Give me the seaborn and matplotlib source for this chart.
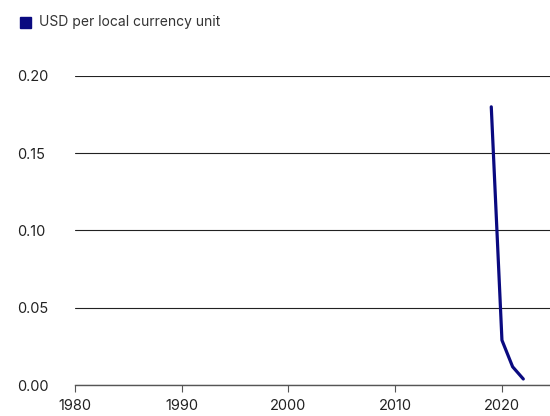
import pandas as pd
import matplotlib.pyplot as plt
import seaborn as sns

years = [2019, 2020, 2021, 2022]
usd_rate = [0.180, 0.029, 0.0118, 0.0039]
series_name = "USD per local currency unit"

df = pd.DataFrame({"year": years, "value": usd_rate})

sns.set_style("white")
plt.rcParams['font.family'] = ['Inter', 'DejaVu Sans']

fig = plt.figure(figsize=(5.5, 4.16), dpi=100)
ax = fig.add_axes([0.136, 0.0745, 0.864, 0.743])

sns.lineplot(data=df, x="year", y="value", color="#0a0a80", linewidth=2.3, ax=ax)

ax.set_xlim(1980, 2024.5)
ax.set_ylim(0, 0.2)
ax.set_xticks([1980, 1990, 2000, 2010, 2020])
ax.set_yticks([0, 0.05, 0.10, 0.15, 0.20])
ax.set_yticklabels(["0.00", "0.05", "0.10", "0.15", "0.20"])
ax.set_xlabel("")
ax.set_ylabel("")

ax.yaxis.grid(True, color="#222222", linewidth=0.8)
ax.set_axisbelow(True)
for s in ["top", "right", "left"]:
    ax.spines[s].set_visible(False)
ax.spines["bottom"].set_color("#555555")
ax.spines["bottom"].set_linewidth(1.0)
ax.tick_params(axis="x", bottom=True, length=5, width=0.8, color="#555555",
               labelsize=10.5, labelcolor="#222222", pad=5)
# y labels sit left-aligned near the figure edge (pad in points)
ax.tick_params(axis="y", left=False, labelsize=10.5, labelcolor="#222222", pad=38)
for lab in ax.get_yticklabels():
    lab.set_horizontalalignment("left")

# legend
fig.patches.append(plt.Rectangle((20 / 550, 1 - 28 / 416), 11 / 550, 11 / 416,
                                 transform=fig.transFigure, color="#0a0a80"))
fig.text(39 / 550, 1 - 22 / 416, series_name, fontsize=10, color="#333333",
         va="center", ha="left")

fig.savefig("out.png", dpi=100)
